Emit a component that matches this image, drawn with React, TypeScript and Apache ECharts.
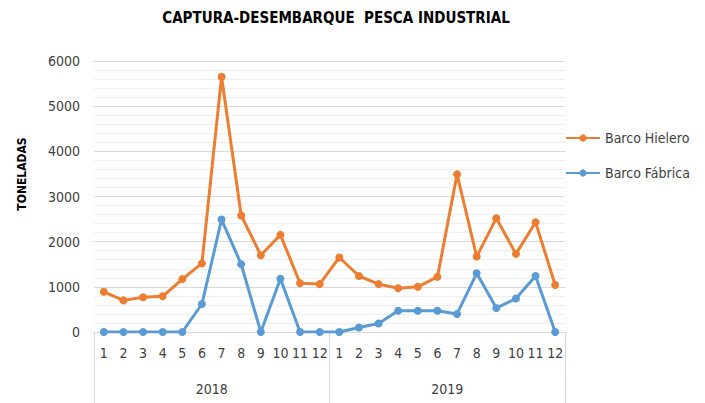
import React, { useEffect, useRef } from "react";
import * as echarts from "echarts";

const months = ["1","2","3","4","5","6","7","8","9","10","11","12","1","2","3","4","5","6","7","8","9","10","11","12"];
const years = ["2018", "2019"];
const barcoHielero = [890, 700, 770, 790, 1170, 1520, 5650, 2580, 1700, 2150, 1080, 1060, 1650, 1240, 1060, 970, 1000, 1220, 3490, 1670, 2520, 1730, 2430, 1040];
const barcoFabrica = [0, 0, 0, 0, 0, 620, 2490, 1500, 0, 1180, 0, 0, 0, 100, 190, 470, 470, 470, 400, 1300, 530, 740, 1240, 0];
const yTicks = { min: 0, max: 6000, interval: 1000 };

const FONT = "'Liberation Sans Narrow', 'DejaVu Sans Condensed', 'Liberation Sans', sans-serif";
const TXT = "#404040";

export default function App() {
  const ref = useRef<HTMLDivElement>(null);
  useEffect(() => {
    if (!ref.current) return;
    const chart = echarts.init(ref.current, undefined, { renderer: "svg" });
    chart.setOption({
      animation: false,
      backgroundColor: "#ffffff",
      textStyle: { fontFamily: FONT },
      title: {
        text: "CAPTURA-DESEMBARQUE  PESCA INDUSTRIAL",
        left: 331,
        textAlign: "center",
        top: 5,
        textStyle: { fontFamily: FONT, fontSize: 15, fontWeight: "bold", color: "#000000" },
      },
      legend: {
        orient: "vertical",
        left: 560,
        top: 126,
        itemWidth: 34,
        itemHeight: 9,
        itemGap: 21,
        textStyle: { fontFamily: FONT, fontSize: 14, color: TXT },
        data: ["Barco Hielero", "Barco Fábrica"],
      },
      graphic: [
        {
          type: "text",
          x: 22,
          y: 174,
          rotation: Math.PI / 2,
          style: {
            text: "TONELADAS",
            font: `bold 12px ${FONT}`,
            fill: "#000000",
            align: "center",
            verticalAlign: "middle",
          },
        },
      ],
      grid: { left: 94, right: 140, top: 61, bottom: 71, containLabel: false },
      xAxis: [
        {
          type: "category",
          data: months,
          boundaryGap: true,
          axisLine: { show: true, lineStyle: { color: "#d9d9d9", width: 1 } },
          axisTick: { show: false },
          axisLabel: { interval: 0, margin: 14, fontSize: 14, color: TXT, fontFamily: FONT },
        },
        {
          type: "category",
          data: years,
          position: "bottom",
          boundaryGap: true,
          axisLine: { show: false },
          axisTick: { show: true, length: 72, interval: 0, lineStyle: { color: "#d9d9d9", width: 1 } },
          axisLabel: { interval: 0, margin: 50, fontSize: 14, color: TXT, fontFamily: FONT },
          splitLine: { show: false },
        },
      ],
      yAxis: {
        type: "value",
        min: yTicks.min,
        max: yTicks.max,
        interval: yTicks.interval,
        axisLine: { show: false },
        axisTick: { show: false },
        axisLabel: {
          margin: 14,
          fontSize: 14,
          color: TXT,
          fontFamily: FONT,
          formatter: (v: number) => String(v),
        },
        splitLine: { show: true, lineStyle: { color: "#d9d9d9", width: 1 } },
        minorTick: { show: false, splitNumber: 5 },
        minorSplitLine: { show: true, lineStyle: { color: "#efefef", width: 1 } },
      },
      series: [
        {
          name: "Barco Hielero",
          type: "line",
          data: barcoHielero,
          xAxisIndex: 0,
          color: "#ED7D31",
          symbol: "circle",
          symbolSize: 8,
          lineStyle: { width: 3, color: "#ED7D31" },
          itemStyle: { color: "#ED7D31" },
        },
        {
          name: "Barco Fábrica",
          type: "line",
          data: barcoFabrica,
          xAxisIndex: 0,
          color: "#5B9BD5",
          symbol: "circle",
          symbolSize: 8,
          lineStyle: { width: 3, color: "#5B9BD5" },
          itemStyle: { color: "#5B9BD5" },
        },
      ],
    });
    return () => chart.dispose();
  }, []);
  return <div ref={ref} style={{ width: 705, height: 403, position: "absolute", left: 0, top: 0 }} />;
}
